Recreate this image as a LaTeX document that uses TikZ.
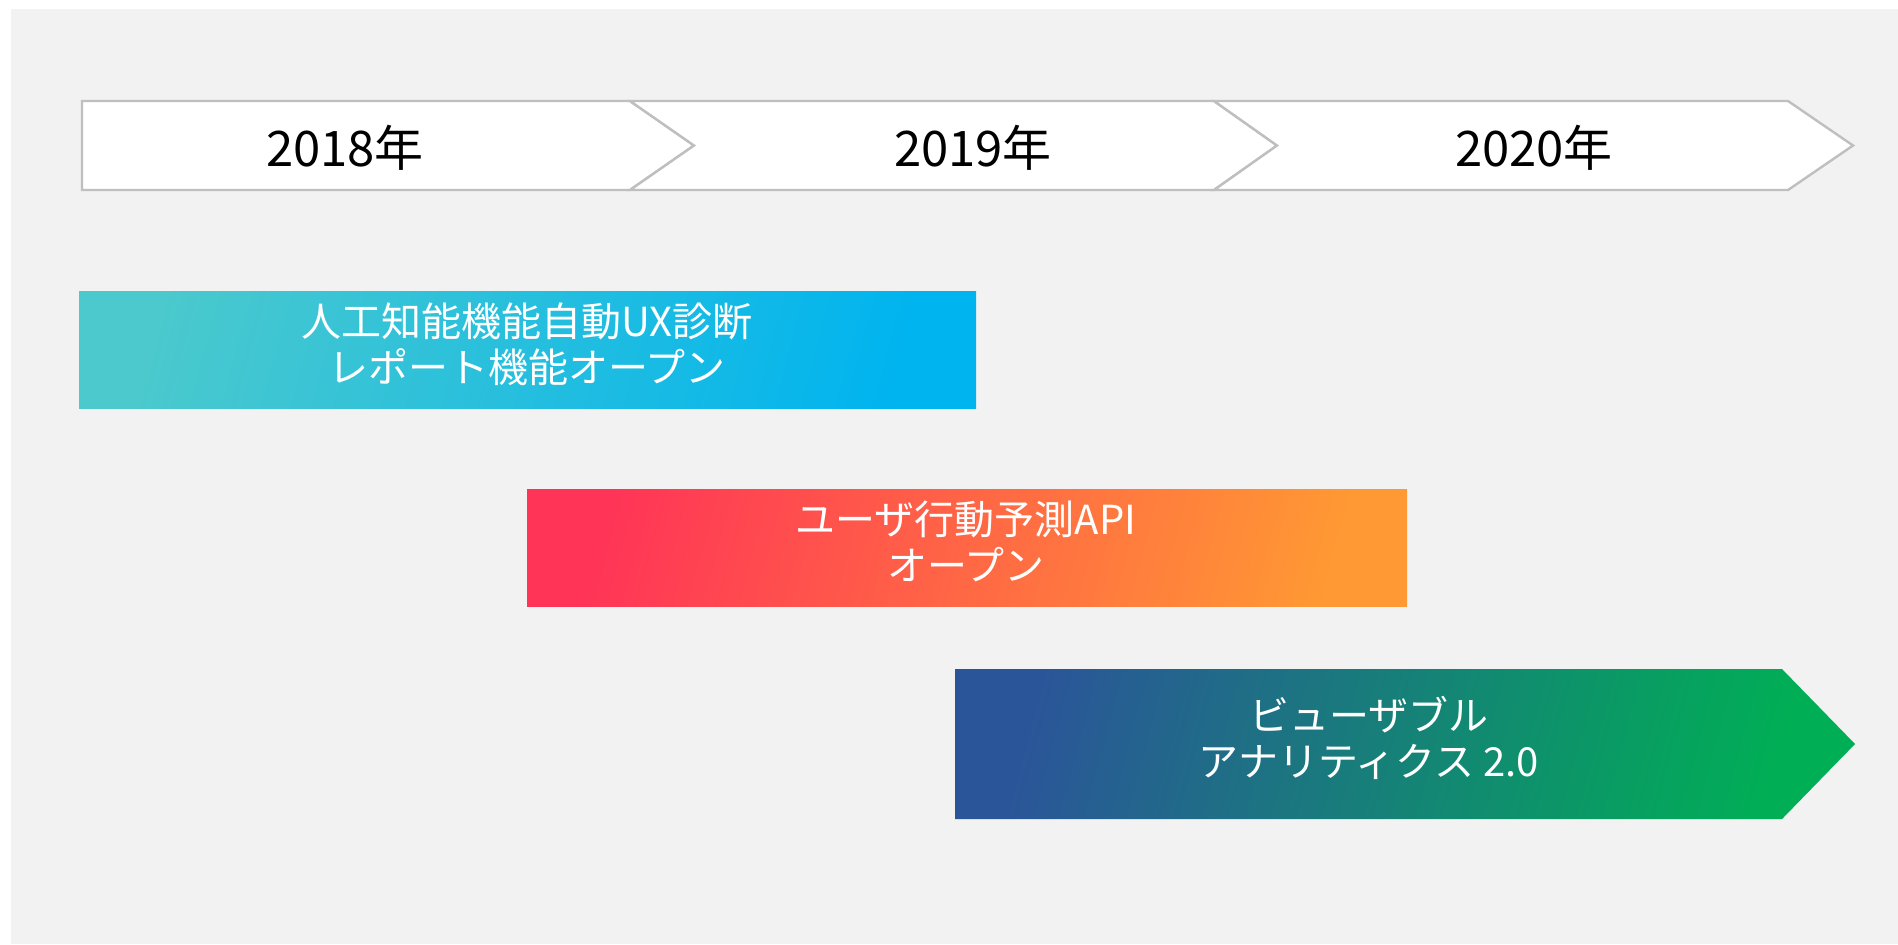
\documentclass[tikz,border=0pt]{standalone}
\usepackage{fontspec}
\setmainfont{Noto Sans CJK JP}
\usepackage{tikz}
\usetikzlibrary{shapes}

\definecolor{bggray}{HTML}{F2F2F2}
\definecolor{edgegray}{HTML}{BFBFBF}
\definecolor{aqualeft}{HTML}{4BC9CD}
\definecolor{aquaright}{HTML}{00B4EF}
\definecolor{redleft}{HTML}{FF3457}
\definecolor{redright}{HTML}{FF9933}
\definecolor{blueleft}{HTML}{2B5599}
\definecolor{greenright}{HTML}{00AF55}

\begin{document}
\begin{tikzpicture}[x=0.5pt, y=-0.5pt,
        year/.style = {anchor=base, font=\fontsize{24.5}{28}\selectfont},
        plan/.style = {text=white, align=center, font=\fontsize{20}{23}\selectfont},
        chev/.style = {draw=edgegray, line width=1.2pt, fill=white, line join=miter}]
                \useasboundingbox (0,0) rectangle (1898,944);
                \fill[bggray] (11,9) rectangle (1898,944);

                % year chevrons
                \draw[chev] (82,101) -- (630,101) -- (694,145.5) -- (630,190) -- (82,190) -- cycle;
                \draw[chev] (630,101) -- (1214,101) -- (1277,145.5) -- (1214,190) -- (630,190) -- (694,145.5) -- cycle;
                \draw[chev] (1214,101) -- (1788,101) -- (1853,145.5) -- (1788,190) -- (1214,190) -- (1277,145.5) -- cycle;
                \node[year] at (345, 166) (y18) {2018年};
                \node[year] at (973, 166) (y19) {2019年};
                \node[year] at (1534, 166) (y20) {2020年};

                % plans
                \shade[left color=aqualeft, right color=aquaright, shading angle=75] (79,291) rectangle (976,408);
                \shade[left color=redleft, right color=redright, shading angle=75] (527,489) rectangle (1407,606);
                \shade[left color=blueleft, right color=greenright, shading angle=75] (955,669) -- (1782,669) -- (1855,744) -- (1782,819) -- (955,819) -- cycle;

                \node[plan] at (527, 344) (ux) {人工知能機能自動UX診断\\レポート機能オープン};
                \node[plan] at (966, 541) (api) {ユーザ行動予測API\\オープン};
                \node[plan] at (1369, 738) (va) {ビューザブル\\アナリティクス 2.0};
            \end{tikzpicture}
\end{document}
